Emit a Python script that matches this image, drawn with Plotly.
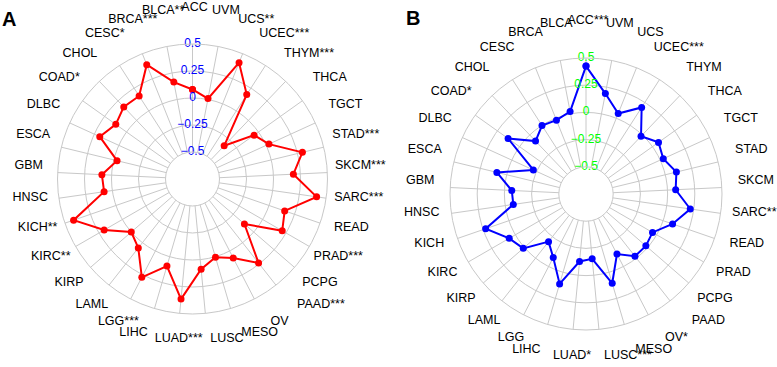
import plotly.graph_objects as go

categories = ["ACC", "BLCA", "BRCA", "CESC", "CHOL", "COAD", "DLBC", "ESCA", "GBM", "HNSC",
              "KICH", "KIRC", "KIRP", "LAML", "LGG", "LIHC", "LUAD", "LUSC", "MESO", "OV",
              "PAAD", "PCPG", "PRAD", "READ", "SARC", "SKCM", "STAD", "TGCT", "THCA", "THYM",
              "UCEC", "UCS", "UVM"]

labels_a = ["ACC", "BLCA**", "BRCA***", "CESC*", "CHOL", "COAD*", "DLBC", "ESCA", "GBM", "HNSC",
            "KICH**", "KIRC**", "KIRP", "LAML", "LGG***", "LIHC", "LUAD***", "LUSC", "MESO", "OV",
            "PAAD***", "PCPG", "PRAD***", "READ", "SARC***", "SKCM***", "STAD***", "TGCT", "THCA", "THYM***",
            "UCEC***", "UCS**", "UVM"]

labels_b = ["ACC***", "BLCA", "BRCA", "CESC", "CHOL", "COAD*", "DLBC", "ESCA", "GBM", "HNSC",
            "KICH", "KIRC", "KIRP", "LAML", "LGG", "LIHC", "LUAD*", "LUSC***", "MESO", "OV*",
            "PAAD", "PCPG", "PRAD", "READ", "SARC**", "SKCM", "STAD", "TGCT", "THCA", "THYM",
            "UCEC***", "UCS", "UVM"]

values_a = [0.079, 0.164, 0.39, 0.164, 0.172, 0.122, 0.194, -0.031, 0.09, 0.077,
            0.415, 0.195, 0.0, 0.062, 0.274, 0.09, 0.367, 0.089, 0.005, 0.073,
            0.24, -0.114, 0.209, 0.153, 0.411, 0.185, 0.297, 0.028, -0.05, -0.325,
            0.179, 0.41, 0.008]

values_b = [0.426, 0.022, -0.019, -0.002, -0.078, 0.129, -0.218, 0.093, -0.067, -0.075,
            0.226, 0.065, 0.013, -0.193, -0.093, 0.111, -0.127, -0.152, 0.105, -0.129,
            -0.022, -0.022, -0.044, 0.092, 0.218, 0.075, 0.105, 0.031, 0.068, -0.017,
            0.196, 0.047, 0.19]

tick_vals = [-0.5, -0.25, 0, 0.25, 0.5]
tick_text = ["\u22120.5", "\u22120.25", "0", "0.25", "0.5"]

FONT = "Arial, Liberation Sans, sans-serif"
GRID = "#c8c8c8"
W, H = 777, 367
N = len(categories)


def box(cx, cy, half):
    return dict(x=[(cx - half) / W, (cx + half) / W],
                y=[1 - (cy + half) / H, 1 - (cy - half) / H])


def label_positions():
    pos = []
    for i in range(N):
        ang = 90 + i * 360.0 / N
        if ang > 180:
            ang -= 360
        if -112 <= ang <= -100:
            pos.append("middle left")
        elif -86 <= ang <= -45:
            pos.append("middle right")
        else:
            pos.append("middle center")
    return pos


fig = go.Figure()


def add_panel(polar, label_polar, vals, labels, color, tick_color, label_r):
    fig.add_trace(go.Scatterpolar(
        r=vals + [vals[0]], theta=categories + [categories[0]],
        mode="lines+markers", line=dict(color=color, width=2),
        marker=dict(color=color, size=7), subplot=polar, showlegend=False,
        cliponaxis=False))
    fig.add_trace(go.Scatterpolar(
        r=tick_vals, theta=[categories[0]] * len(tick_vals), mode="text",
        text=tick_text, textposition="middle center",
        textfont=dict(color=tick_color, size=12, family=FONT),
        subplot=polar, showlegend=False, cliponaxis=False))
    fig.add_trace(go.Scatterpolar(
        r=[label_r] * N, theta=categories, mode="text",
        text=labels, textposition=label_positions(),
        textfont=dict(color="black", size=12.5, family=FONT),
        subplot=label_polar, showlegend=False, cliponaxis=False))


add_panel("polar", "polar3", values_a, labels_a, "#ff0000", "#0000ff", 166 / 172)
add_panel("polar2", "polar4", values_b, labels_b, "#0000ff", "#00ff00", 168 / 175)

polar_common = dict(
    hole=0.2,
    bgcolor="rgba(0,0,0,0)",
    radialaxis=dict(range=[-0.5, 0.5], tickvals=tick_vals, showticklabels=False,
                    ticks="", showline=False, gridcolor=GRID, gridwidth=1),
    angularaxis=dict(type="category", categoryarray=categories, direction="counterclockwise",
                     rotation=90, showticklabels=False, ticks="", showline=True,
                     linecolor=GRID, linewidth=1, gridcolor=GRID, gridwidth=1),
)

label_common = dict(
    bgcolor="rgba(0,0,0,0)",
    radialaxis=dict(range=[0, 1], visible=False, showgrid=False),
    angularaxis=dict(type="category", categoryarray=categories, direction="counterclockwise",
                     rotation=90, showticklabels=False, ticks="", showline=False,
                     showgrid=False),
)

fig.update_layout(
    width=W, height=H,
    margin=dict(l=0, r=0, t=0, b=0),
    paper_bgcolor="white", plot_bgcolor="white",
    showlegend=False,
    polar=dict(domain=box(192.5, 179, 135), **polar_common),
    polar2=dict(domain=box(586, 194, 136), **polar_common),
    polar3=dict(domain=box(194.5, 174, 172), **label_common),
    polar4=dict(domain=box(588, 189, 175), **label_common),
    annotations=[
        dict(text="<b>A</b>", x=8.5 / W, y=1 - 19 / H, xref="paper", yref="paper",
             xanchor="center", yanchor="middle",
             showarrow=False, font=dict(size=20, family=FONT, color="black")),
        dict(text="<b>B</b>", x=413 / W, y=1 - 18 / H, xref="paper", yref="paper",
             xanchor="center", yanchor="middle",
             showarrow=False, font=dict(size=20, family=FONT, color="black")),
    ],
)

fig.write_html("out.html", config={"displayModeBar": False},
               post_script="document.body.style.margin='0';")
